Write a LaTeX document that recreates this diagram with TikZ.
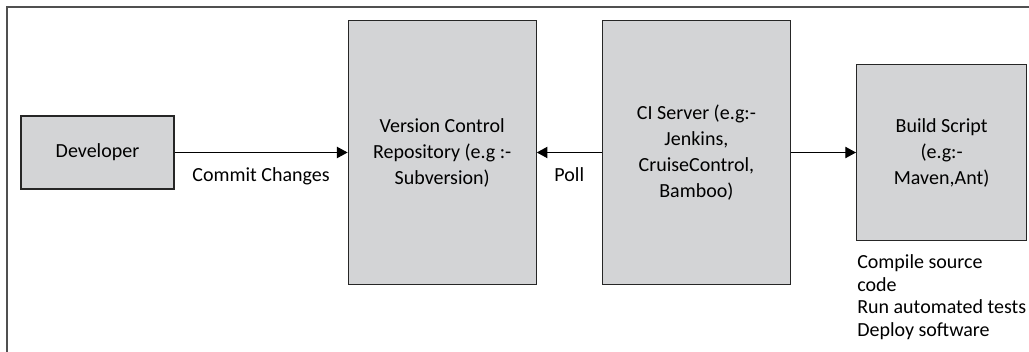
\documentclass[tikz,border=0pt]{standalone}
\usepackage{fontspec}
\setmainfont{Carlito}
\usetikzlibrary{arrows.meta, positioning}
\definecolor{boxgray}{RGB}{211,212,214}
\definecolor{framegray}{RGB}{80,80,80}

\begin{document}
\begin{tikzpicture}[
    x=0.75pt, y=-0.75pt,
    node distance=48.75pt,
    stage/.style={rectangle, draw=black!85, fill=boxgray, line width=0.9pt, align=center, inner sep=0pt, font=\fontsize{15}{19.5}\selectfont},
    edgetext/.style={font=\fontsize{15}{18}\selectfont, inner sep=3pt},
    tasks/.style={align=left, inner sep=0pt, font=\fontsize{15}{17}\selectfont},
    arrow/.style={-{Triangle[length=8pt, width=8.5pt]}, line width=0.8pt}
]
    \useasboundingbox (0,0) rectangle (1029,352);

    % Outer frame (cut off at right and bottom)
    \draw[framegray, line width=1.5pt] (7,352) -- (7,7) -- (1029,7);

    % Stages
    \node[stage, minimum width=114.75pt, minimum height=54.75pt] (dev) at (97.5,152.5) {Developer};
    \node[stage, minimum width=141pt, minimum height=198pt, right=129.75pt of dev] (repo) {Version Control\\Repository (e.g :-\\Subversion)};
    \node[stage, minimum width=141pt, minimum height=198pt, right=of repo] (ci) {CI Server (e.g:-\\Jenkins,\\CruiseControl,\\Bamboo)};
    \node[stage, minimum width=127.5pt, minimum height=132pt, right=of ci] (build) {Build Script\\(e.g:-\\Maven,Ant)};

    % Build tasks
    \node[tasks, below right=10pt and 0.75pt of build.south west] (steps) {Compile source\\code\\Run automated tests\\Deploy software};

    % Connections
    \draw[arrow] (dev) -- node[edgetext, below=8pt] {Commit Changes} (repo);
    \draw[arrow] (ci) -- node[edgetext, below=8pt] {Poll} (repo);
    \draw[arrow] (ci) -- (build);

\end{tikzpicture}
\end{document}
